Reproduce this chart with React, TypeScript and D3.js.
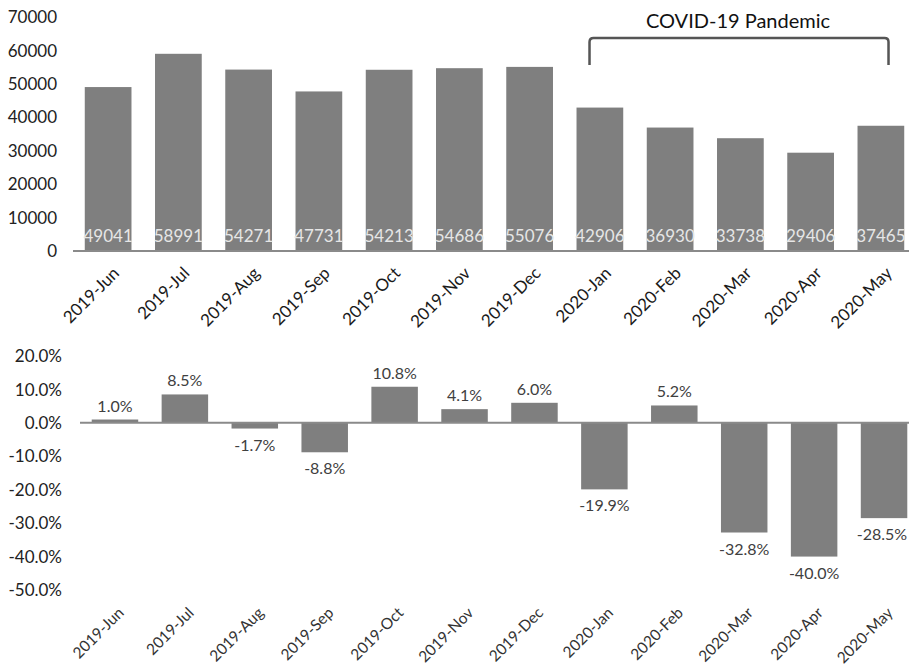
import React, { useEffect, useRef } from 'react'
import * as d3 from 'd3'

const months = ['2019-Jun', '2019-Jul', '2019-Aug', '2019-Sep', '2019-Oct', '2019-Nov', '2019-Dec', '2020-Jan', '2020-Feb', '2020-Mar', '2020-Apr', '2020-May']
const counts = [49041, 58991, 54271, 47731, 54213, 54686, 55076, 42906, 36930, 33738, 29406, 37465]
const changes = [1.0, 8.5, -1.7, -8.8, 10.8, 4.1, 6.0, -19.9, 5.2, -32.8, -40.0, -28.5]
const countTicks = [0, 10000, 20000, 30000, 40000, 50000, 60000, 70000]
const changeTicks = [20, 10, 0, -10, -20, -30, -40, -50]
const bracketLabel = 'COVID-19 Pandemic'
const pandemicStart = '2020-Jan'
const pandemicEnd = '2020-May'

const W = 909
const H = 667
const font = 'Lato, "Open Sans", sans-serif'
const barColor = '#7f7f7f'

export default function App() {
  const ref = useRef<SVGSVGElement>(null)

  useEffect(() => {
    const svg = d3.select(ref.current)
    svg.selectAll('*').remove()
    svg.style('font-family', font)

    // ---- top chart: monthly counts
    const x1 = d3.scaleBand().domain(months).range([73, 916]).paddingInner(0.335).paddingOuter(0.1675)
    const y1 = d3.scaleLinear().domain([0, 70000]).range([251, 17])

    const top = svg.append('g')
    top
      .selectAll('text.ytick')
      .data(countTicks)
      .join('text')
      .attr('class', 'ytick')
      .attr('x', 57)
      .attr('y', (d) => y1(d))
      .attr('dy', '0.36em')
      .attr('text-anchor', 'end')
      .attr('font-size', 17)
      .attr('fill', '#222')
      .text((d) => d)

    top
      .selectAll('rect')
      .data(counts)
      .join('rect')
      .attr('x', (d, i) => x1(months[i]))
      .attr('y', (d) => y1(d))
      .attr('width', x1.bandwidth())
      .attr('height', (d) => y1(0) - y1(d))
      .attr('fill', barColor)

    top
      .append('line')
      .attr('x1', 73)
      .attr('x2', W)
      .attr('y1', y1(0))
      .attr('y2', y1(0))
      .attr('stroke', '#8a8a8a')
      .attr('stroke-width', 2)

    top
      .selectAll('text.val')
      .data(counts)
      .join('text')
      .attr('class', 'val')
      .attr('x', (d, i) => x1(months[i]) + x1.bandwidth() / 2)
      .attr('y', 242)
      .attr('text-anchor', 'middle')
      .attr('font-size', 17)
      .attr('fill', '#e6e6e6')
      .text((d) => d)

    top
      .selectAll('text.xl')
      .data(months)
      .join('text')
      .attr('class', 'xl')
      .attr('transform', (d) => `translate(${x1(d) + x1.bandwidth() / 2 + 8},${270}) rotate(-45)`)
      .attr('text-anchor', 'end')
      .attr('dy', '0.35em')
      .attr('font-size', 17)
      .attr('fill', '#1a1a1a')
      .text((d) => d)

    // bracket over the pandemic months
    const bx0 = x1(pandemicStart) + 13
    const bx1 = x1(pandemicEnd) + 31
    const by0 = 38
    const by1 = 65
    const r = 4
    top
      .append('path')
      .attr('d', `M${bx0},${by1} L${bx0},${by0 + r} Q${bx0},${by0} ${bx0 + r},${by0} L${bx1 - r},${by0} Q${bx1},${by0} ${bx1},${by0 + r} L${bx1},${by1}`)
      .attr('fill', 'none')
      .attr('stroke', '#555')
      .attr('stroke-width', 2.5)
    top
      .append('text')
      .attr('x', 738)
      .attr('y', 28)
      .attr('text-anchor', 'middle')
      .attr('font-size', 20)
      .attr('fill', '#111')
      .text(bracketLabel)

    // ---- bottom chart: month-over-month change
    const x2 = d3.scaleBand().domain(months).range([80, 919]).paddingInner(0.335).paddingOuter(0.1675)
    const y2 = d3.scaleLinear().domain([-50, 20]).range([590, 356])

    const bot = svg.append('g')
    bot
      .selectAll('text.ytick')
      .data(changeTicks)
      .join('text')
      .attr('class', 'ytick')
      .attr('x', 62)
      .attr('y', (d) => y2(d))
      .attr('dy', '0.36em')
      .attr('text-anchor', 'end')
      .attr('font-size', 17)
      .attr('fill', '#222')
      .text((d) => d.toFixed(1) + '%')

    bot
      .selectAll('rect')
      .data(changes)
      .join('rect')
      .attr('x', (d, i) => x2(months[i]))
      .attr('y', (d) => y2(Math.max(0, d)))
      .attr('width', x2.bandwidth())
      .attr('height', (d) => Math.abs(y2(d) - y2(0)))
      .attr('fill', barColor)

    bot
      .append('line')
      .attr('x1', 80)
      .attr('x2', W)
      .attr('y1', y2(0))
      .attr('y2', y2(0))
      .attr('stroke', '#8a8a8a')
      .attr('stroke-width', 2)

    bot
      .selectAll('text.val')
      .data(changes)
      .join('text')
      .attr('class', 'val')
      .attr('x', (d, i) => Math.min(x2(months[i]) + x2.bandwidth() / 2, W - 27))
      .attr('y', (d) => (d >= 0 ? y2(d) - 8 : y2(d) + 22))
      .attr('text-anchor', 'middle')
      .attr('font-size', 16)
      .attr('fill', '#404040')
      .text((d) => d.toFixed(1) + '%')

    bot
      .selectAll('text.xl')
      .data(months)
      .join('text')
      .attr('class', 'xl')
      .attr('transform', (d) => `translate(${x2(d) + x2.bandwidth() / 2 + 6},${610}) rotate(-45)`)
      .attr('text-anchor', 'end')
      .attr('dy', '0.35em')
      .attr('font-size', 15.5)
      .attr('fill', '#333')
      .text((d) => d)
  }, [])

  return (
    <div style={{ position: 'absolute', left: 0, top: 0, background: '#fff' }}>
      <svg ref={ref} width={W} height={H} style={{ display: 'block' }} />
    </div>
  )
}
